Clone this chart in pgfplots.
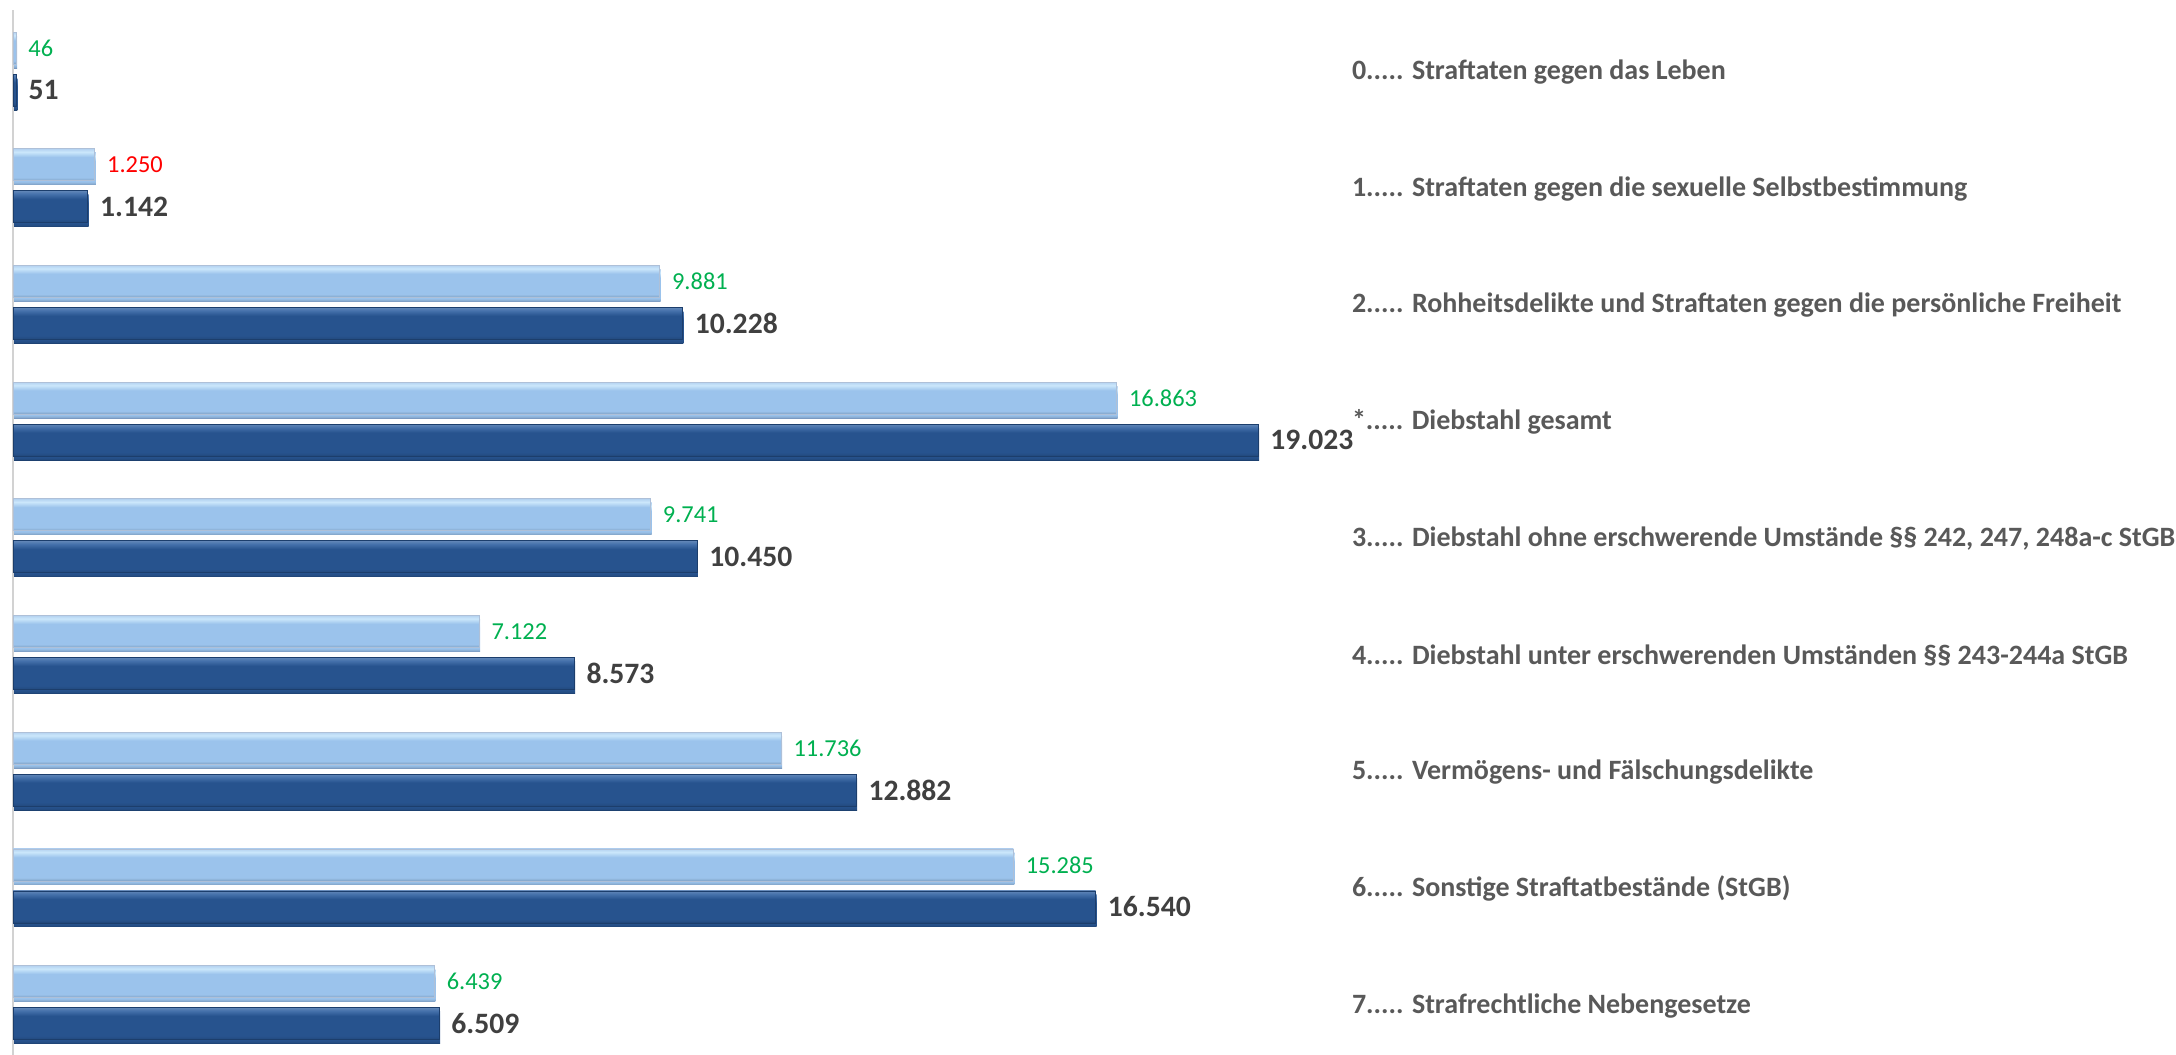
\documentclass[border=0pt]{standalone}
\usepackage{pgfplots}
\pgfplotsset{compat=1.18}
\usepackage{fontspec}
\setmainfont{Carlito}
\definecolor{lightmain}{HTML}{9BC3EC}
\definecolor{lighttop}{HTML}{CBE7FB}
\definecolor{lightbot}{HTML}{7896BE}
\definecolor{darkmain}{HTML}{27538E}
\definecolor{darktop}{HTML}{4571AB}
\definecolor{darkbot}{HTML}{1C3E6C}
\definecolor{valgreen}{HTML}{00B050}
\definecolor{valdark}{HTML}{404040}
\definecolor{catgray}{HTML}{595959}
\pgfdeclareverticalshading{lightbev}{100bp}{color(0bp)=(lightbot); color(25bp)=(lightbot); color(26.5bp)=(lightmain!88!black); color(30bp)=(lightmain); color(62bp)=(lightmain); color(70bp)=(lighttop); color(75bp)=(lightmain!75!white); color(100bp)=(lightmain!75!white)}
\pgfdeclareverticalshading{darkbev}{100bp}{color(0bp)=(darkbot); color(25bp)=(darkbot); color(27bp)=(darkmain!92!black); color(31bp)=(darkmain); color(62bp)=(darkmain); color(70bp)=(darktop); color(75bp)=(darktop!85!white); color(100bp)=(darktop!85!white)}
\newcommand\catlabel[1]{\ifcase#1
  0..... Straftaten gegen das Leben\or
  1..... Straftaten gegen die sexuelle Selbstbestimmung\or
  2..... Rohheitsdelikte und Straftaten gegen die persönliche Freiheit\or
  *..... Diebstahl gesamt\or
  3..... Diebstahl ohne erschwerende Umstände §§ 242, 247, 248a-c StGB\or
  4..... Diebstahl unter erschwerenden Umständen §§ 243-244a StGB\or
  5..... Vermögens- und Fälschungsdelikte\or
  6..... Sonstige Straftatbestände (StGB)\or
  7..... Strafrechtliche Nebengesetze\fi}
\pgfplotsset{
  lightbar/.style={draw=lightbot!60, line width=0.4pt, shading=lightbev,
    preaction={draw=none, fill=black!9, transform canvas={xshift=0.5pt, yshift=-2pt}},
    every node near coord/.append style={anchor=west, inner sep=0pt, xshift=6pt, font=\fontsize{12.2}{14}\selectfont, text=valgreen}},
  lightred/.style={lightbar, every node near coord/.append style={text=red}},
  darkbar/.style={draw=darkbot, line width=0.4pt, shading=darkbev,
    preaction={draw=none, fill=black!9, transform canvas={xshift=0.5pt, yshift=-2pt}},
    every node near coord/.append style={anchor=west, inner sep=0pt, xshift=6pt, font=\fontsize{14.8}{17}\selectfont\bfseries, text=valdark}},
}
\begin{document}
\begin{tikzpicture}
\useasboundingbox (0,0) rectangle (1088pt,527.5pt);
\begin{axis}[
  at={(6.5pt,0pt)}, anchor=south west,
  scale only axis, width=654.5pt, height=522.5pt,
  xmin=0, xmax=20000,
  ymin=-0.506, ymax=8.449, y dir=reverse,
  clip=false,
  separate axis lines,
  axis line style={draw=none},
  hide x axis,
  ytick={0,1,2,3,4,5,6,7,8},
  yticklabel={\catlabel{\ticknum}},
  yticklabel pos=right,
  major tick length=0pt,
  yticklabel style={anchor=west, inner sep=0pt, xshift=14.8pt, yshift=-1.5pt, font=\fontsize{14}{16}\selectfont\bfseries, text=catgray},
  xbar, bar width=16pt, bar shift=0pt,
  /pgf/number format/assume math mode=true,
  nodes near coords={\pgfmathprintnumber[fixed, precision=0, 1000 sep={.}]{\pgfplotspointmeta}},
  point meta=x,
]
\draw[gray!35, line width=1pt] (axis cs:0,-0.506) -- (axis cs:0,8.449);
% light series (previous year)
\addplot[lightbar] coordinates {(46,-0.18)};
\addplot[lightred] coordinates {(1250,0.82)};
\addplot[lightbar] coordinates {(9881,1.82)};
\addplot[lightbar] coordinates {(16863,2.82)};
\addplot[lightbar] coordinates {(9741,3.82)};
\addplot[lightbar] coordinates {(7122,4.82)};
\addplot[lightbar] coordinates {(11736,5.82)};
\addplot[lightbar] coordinates {(15285,6.82)};
\addplot[lightbar] coordinates {(6439,7.82)};
% dark series (current year)
\addplot[darkbar] coordinates {(51,0.18)};
\addplot[darkbar] coordinates {(1142,1.18)};
\addplot[darkbar] coordinates {(10228,2.18)};
\addplot[darkbar] coordinates {(19023,3.18)};
\addplot[darkbar] coordinates {(10450,4.18)};
\addplot[darkbar] coordinates {(8573,5.18)};
\addplot[darkbar] coordinates {(12882,6.18)};
\addplot[darkbar] coordinates {(16540,7.18)};
\addplot[darkbar] coordinates {(6509,8.18)};
\end{axis}
\end{tikzpicture}
\end{document}
